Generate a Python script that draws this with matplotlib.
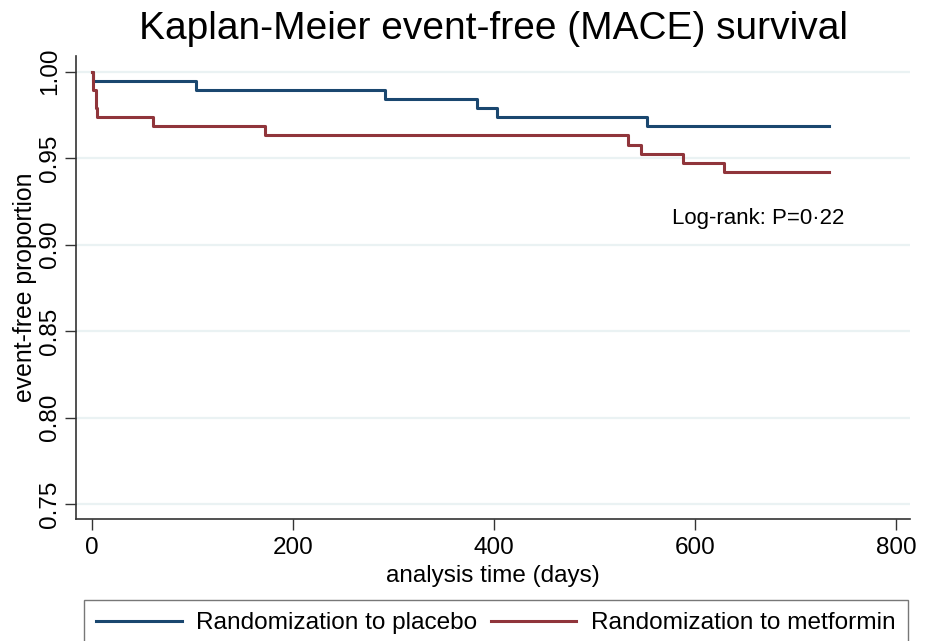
import matplotlib
matplotlib.use("Agg")
import matplotlib.pyplot as plt

plt.rcParams['font.family'] = ['Liberation Sans', 'DejaVu Sans']

# Kaplan-Meier steps (days, event-free proportion)
placebo_t = [0, 1, 104, 292, 383, 403, 552, 733]
placebo_s = [1.0, 0.9947, 0.9895, 0.9842, 0.9789, 0.9737, 0.9684, 0.9684]

metformin_t = [0, 1, 4, 5, 61, 172, 533, 546, 588, 629, 733]
metformin_s = [1.0, 0.9895, 0.9790, 0.9737, 0.9684, 0.9635, 0.9579, 0.9524, 0.9474, 0.9418, 0.9418]

x_ticks = [0, 200, 400, 600, 800]
y_ticks = [0.75, 0.80, 0.85, 0.90, 0.95, 1.00]

navy = "#1a476f"
maroon = "#90353b"

fig = plt.figure(figsize=(9.30, 6.41), dpi=100)
ax = fig.add_axes([76 / 930, 1 - 519 / 641, (910 - 76) / 930, (519 - 56) / 641])

ax.plot(placebo_t, placebo_s, drawstyle="steps-post", color=navy, lw=2.2,
        label="Randomization to placebo")
ax.plot(metformin_t, metformin_s, drawstyle="steps-post", color=maroon, lw=2.2,
        label="Randomization to metformin")

ax.set_xlim(-15.6, 814)
ax.set_ylim(0.7413, 1.0091)
ax.set_xticks(x_ticks)
ax.set_yticks(y_ticks)
ax.set_yticklabels(["%.2f" % v for v in y_ticks], rotation=90, va="center")
ax.tick_params(axis="both", labelsize=17.5, length=8, width=1.0, color="#333333")
ax.tick_params(axis="y", pad=3)
ax.tick_params(axis="x", pad=5)

for v in y_ticks:
    ax.axhline(v, color="#eaf2f3", lw=1.6, zorder=0)

for side in ["top", "right"]:
    ax.spines[side].set_visible(False)
for side in ["left", "bottom"]:
    ax.spines[side].set_color("#333333")
    ax.spines[side].set_linewidth(1.2)

ax.set_ylabel("event-free proportion", fontsize=17.8, labelpad=1)
ax.set_xlabel("analysis time (days)", fontsize=17.5, labelpad=4)
ax.set_title("Kaplan-Meier event-free (MACE) survival", fontsize=28, pad=12)

ax.text(577, 0.915, "Log-rank: P=0\u00b722", fontsize=16, va="center", ha="left")

fig.legend(loc="upper left",
           bbox_to_anchor=(84 / 930, 1 - 600 / 641 - 0.1, (908 - 84) / 930, 0.1),
           ncol=2, mode="expand", fontsize=17.6, frameon=True, fancybox=False,
           edgecolor="#555555", handlelength=3.5, handletextpad=0.6,
           columnspacing=1.0, borderaxespad=0, borderpad=0.5)

fig.savefig("out.png", dpi=100)
